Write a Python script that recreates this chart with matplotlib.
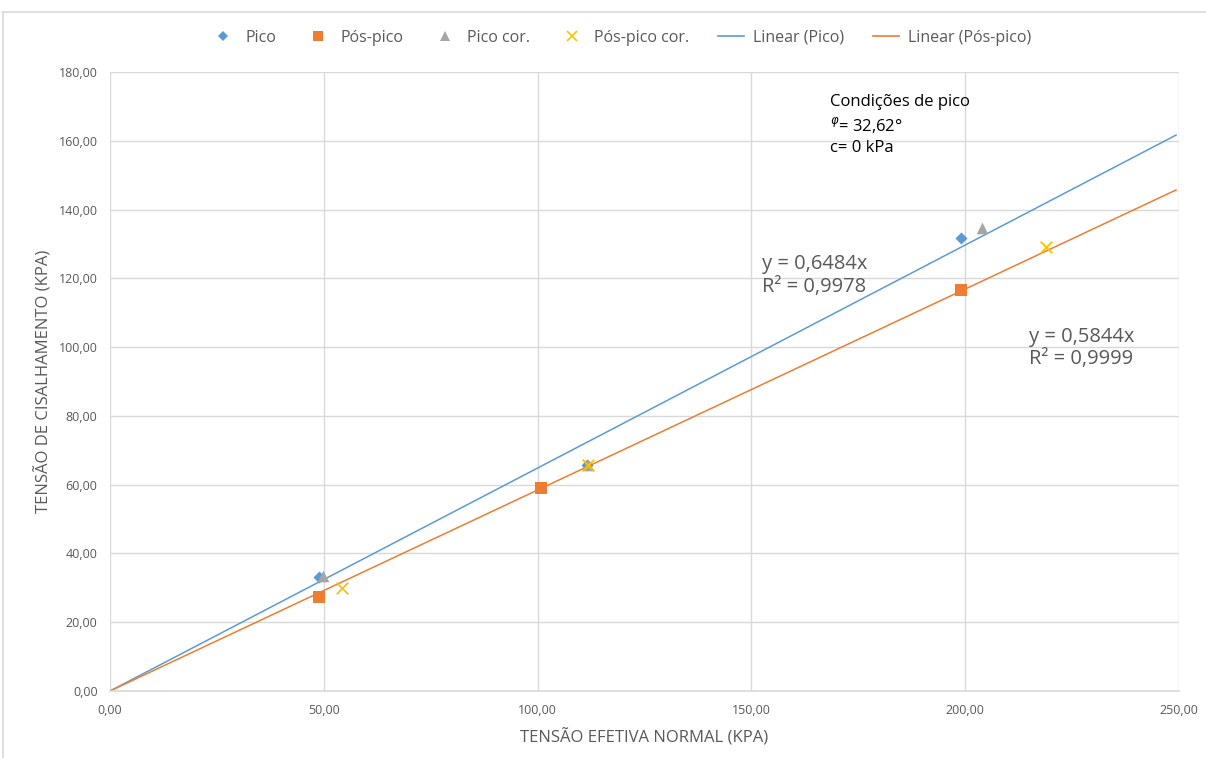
import matplotlib
matplotlib.use("Agg")
import matplotlib.pyplot as plt
from matplotlib.lines import Line2D
import numpy as np

plt.rcParams['font.family'] = ['Open Sans', 'DejaVu Sans']

# Shear test results (normal stress, shear stress) in kPa
pico_x = [48.9, 111.6, 199.0]
pico_y = [33.1, 65.6, 131.7]
pos_pico_x = [48.9, 100.8, 199.0]
pos_pico_y = [27.3, 59.0, 116.6]
pico_cor_x = [49.8, 111.8, 203.9]
pico_cor_y = [33.4, 65.7, 134.6]
pos_pico_cor_x = [54.3, 111.8, 218.9]
pos_pico_cor_y = [30.0, 65.7, 129.1]

# Linear trend lines through the origin
slope_pico = 0.6484
r2_pico = 0.9978
slope_pos = 0.5844
r2_pos = 0.9999
trend_x_end = 249.3

x_ticks = [0, 50, 100, 150, 200, 250]
y_ticks = [0, 20, 40, 60, 80, 100, 120, 140, 160, 180]

BLUE = '#5B9BD5'
ORANGE = '#ED7D31'
GRAY = '#A5A5A5'
YELLOW = '#FFC000'
GRID = '#D9D9D9'
TEXT = '#595959'

fig = plt.figure(figsize=(12.06, 7.58), dpi=100)
ax = fig.add_axes([110/1206, 1-691/758, (1179-110)/1206, (691-72)/758])

tx = np.array([0, trend_x_end])
ax.plot(tx, slope_pico*tx, color=BLUE, lw=1.1, zorder=2)
ax.plot(tx, slope_pos*tx, color=ORANGE, lw=1.1, zorder=2)

ax.scatter(pico_x, pico_y, marker='D', s=38, color=BLUE, zorder=3, linewidths=0)
ax.scatter(pos_pico_x, pos_pico_y, marker='s', s=70, color=ORANGE, zorder=3, linewidths=0)
ax.scatter(pico_cor_x, pico_cor_y, marker='^', s=70, color=GRAY, zorder=3, linewidths=0)
ax.scatter(pos_pico_cor_x, pos_pico_cor_y, marker='x', s=70, color=YELLOW, zorder=4, linewidths=1.3)

ax.set_xlim(0, 250)
ax.set_ylim(0, 180)
ax.set_xticks(x_ticks)
ax.set_yticks(y_ticks)
fmt = lambda v: f"{v:.2f}".replace('.', ',')
ax.set_xticklabels([fmt(v) for v in x_ticks])
ax.set_yticklabels([fmt(v) for v in y_ticks])
ax.tick_params(length=0, labelsize=9, colors=TEXT, pad=9)
ax.grid(True, color=GRID, lw=1)
ax.set_axisbelow(True)
for s in ['top', 'right', 'left']:
    ax.spines[s].set_visible(False)
ax.spines['bottom'].set_color(GRID)
ax.spines['bottom'].set_linewidth(1.2)

ax.set_xlabel('TENSÃO EFETIVA NORMAL (KPA)', fontsize=12, color=TEXT, labelpad=9)
ax.set_ylabel('TENSÃO DE CISALHAMENTO (KPA)', fontsize=12, color=TEXT, labelpad=4)

# Trend line equations
eq_fs = 14.5
ax.text(152.5, 124.2, f"y = {str(slope_pico).replace('.', ',')}x", fontsize=eq_fs, color=TEXT, va='center')
ax.text(152.5, 117.6, f"R² = {str(r2_pico).replace('.', ',')}", fontsize=eq_fs, color=TEXT, va='center')
ax.text(215.0, 103.0, f"y = {str(slope_pos).replace('.', ',')}x", fontsize=eq_fs, color=TEXT, va='center')
ax.text(215.0, 96.5, f"R² = {str(r2_pos).replace('.', ',')}", fontsize=eq_fs, color=TEXT, va='center')

# Peak strength parameters
ax.text(168.4, 171.3, "Condições de pico", fontsize=12, color='black', va='center')
ax.text(168.4, 164.6, r"$^{\varphi}$= 32,62°", fontsize=12, color='black', va='center')
ax.text(168.4, 157.9, "c= 0 kPa", fontsize=12, color='black', va='center')

handles = [
    Line2D([], [], marker='D', color=BLUE, ls='none', markersize=5.5, markeredgewidth=0),
    Line2D([], [], marker='s', color=ORANGE, ls='none', markersize=7, markeredgewidth=0),
    Line2D([], [], marker='^', color=GRAY, ls='none', markersize=7, markeredgewidth=0),
    Line2D([], [], marker='x', color=YELLOW, ls='none', markersize=7, markeredgewidth=1.2),
    Line2D([], [], color=BLUE, lw=1.2),
    Line2D([], [], color=ORANGE, lw=1.2),
]
labels = ['Pico', 'Pós-pico', 'Pico cor.', 'Pós-pico cor.', 'Linear (Pico)', 'Linear (Pós-pico)']
fig.legend(handles, labels, loc='center', bbox_to_anchor=(621/1206, 1-38/758), ncol=6,
           frameon=False, fontsize=11.5, labelcolor=TEXT, handlelength=1.6,
           columnspacing=1.8, handletextpad=0.6)

# Chart area border
fig.add_artist(Line2D([3/1206, 1], [1-12/758, 1-12/758], color=GRID, lw=1.2, transform=fig.transFigure))
fig.add_artist(Line2D([3/1206, 3/1206], [0, 1-12/758], color=GRID, lw=1.2, transform=fig.transFigure))

fig.savefig('out.png', dpi=100)
